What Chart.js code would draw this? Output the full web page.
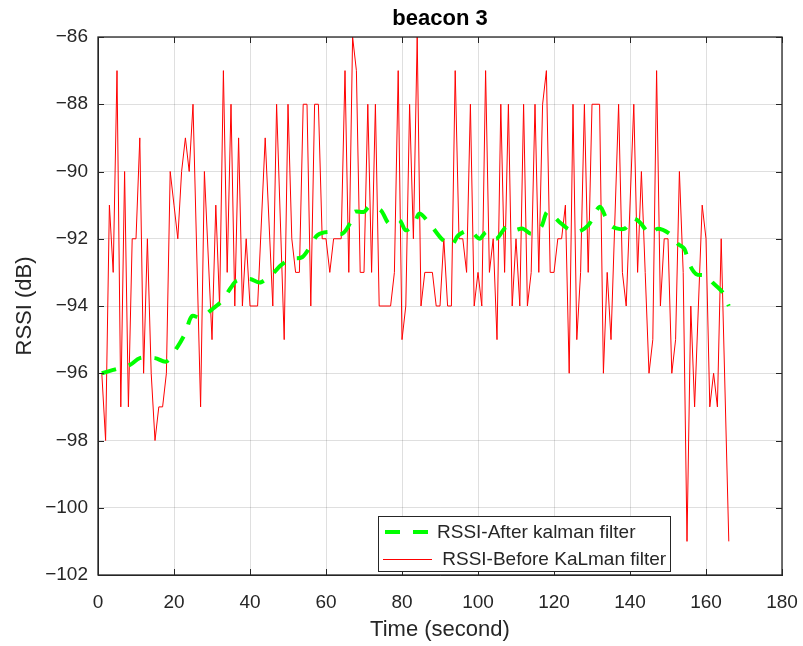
<!DOCTYPE html>
<html><head><meta charset="utf-8">
<script src="https://cdn.jsdelivr.net/npm/chart.js@4"></script>
<style>html,body{margin:0;padding:0;background:#fff}#wrap{width:803px;height:646px}</style>
</head><body><div id="wrap"><canvas id="c" width="803" height="646"></canvas></div>
<script>
// ---- data ----
const rawTime = [1,2,3,4,5,6,7,8,9,10,11,12,13,14,15,16,17,18,19,20,21,22,23,24,25,27,28,30,31,32,33,34,35,36,37,38,39,40,42,44,46,47,49,50,51,52,53,54,55,56,57,58,59,60,61,62,64,65,66,67,68,69,70,71,72,73,74,77,78,79,80,81,82,83,84,85,86,88,89,90,91,92,93,94,95,96,97,98,99,100,101,102,103,104,105,106,107,108,109,110,111,112,113,114,115,116,117,118,119,120,121,122,123,124,125,126,127,128,129,130,132,133,134,135,137,138,139,141,142,143,144,145,146,147,148,149,150,151,152,153,154,155,156,157,159,160,161,162,163,164,166];
const rawRssi = [-96,-98,-91,-93,-87,-97,-90,-97,-92,-92,-89,-96,-92,-96,-98,-97,-97,-96,-90,-91,-92,-90,-89,-90,-88,-97,-90,-95,-91,-94,-87,-93,-88,-94,-89,-94,-92,-94,-94,-89,-94,-88,-95,-88,-92,-93,-93,-88,-88,-94,-88,-88,-92,-92,-93,-92,-92,-87,-93,-86,-87,-93,-93,-88,-93,-88,-94,-94,-93,-87,-95,-94,-88,-92,-86,-94,-93,-93,-94,-94,-92,-94,-94,-87,-92,-92,-93,-88,-94,-93,-94,-87,-93,-92,-95,-88,-93,-88,-94,-92,-94,-88,-94,-93,-88,-93,-88,-87,-93,-93,-92,-92,-91,-96,-88,-95,-93,-88,-93,-88,-88,-96,-93,-95,-88,-93,-94,-88,-93,-90,-93,-96,-95,-87,-94,-92,-92,-96,-95,-90,-93,-101,-94,-97,-91,-92,-97,-96,-97,-92,-101];
const kalmanTime = [1,4,8.4,11,15,18,21,23,24.7,27,30,32.6,35,36.5,40,42.7,46.3,48,50.7,53.7,56,57.7,60.4,64.3,66.5,67.5,70,71.4,74.4,76.6,79.3,81,83.2,84.6,87.6,90.4,93,94.8,97.8,100.4,102.2,104.8,107.4,109.2,111.8,114,116.6,118.3,121.4,123.6,126.2,129,132,133.8,135.5,138.6,140.8,142.5,145.2,147.3,150.4,152.6,154.3,155.6,157.4,160,161.7,164.4,166];
const kalmanRssi = [-96,-95.9,-95.75,-95.55,-95.55,-95.65,-95.2,-94.8,-94.3,-94.35,-94.1,-93.85,-93.45,-93.25,-93.2,-93.3,-93.0,-92.8,-92.6,-92.55,-92.2,-91.9,-91.8,-91.85,-91.5,-91.2,-91.2,-91.05,-91.15,-91.55,-91.45,-91.75,-91.55,-91.25,-91.6,-92.0,-92.2,-91.9,-91.75,-92.0,-91.8,-92.0,-91.65,-91.75,-91.7,-91.85,-91.65,-91.2,-91.5,-91.7,-91.8,-91.6,-91.05,-91.4,-91.65,-91.7,-91.4,-91.5,-91.85,-91.7,-91.85,-92.15,-92.3,-92.75,-93.05,-93.1,-93.3,-93.6,-94.0];
const xTicks = [0,20,40,60,80,100,120,140,160,180];
const yTicks = [-102,-100,-98,-96,-94,-92,-90,-88,-86];
const seriesLabels = ['RSSI-After kalman filter', ' RSSI-Before KaLman filter'];
const titleText = 'beacon 3';
const xTitle = 'Time (second)';
const yTitle = 'RSSI (dB)';

const FONT = '"Liberation Sans", Arial, Helvetica, sans-serif';
const TXT = '#262626';
const AXC = '#262626';
const GRID = 'rgba(38,38,38,0.15)';

const toPts = (xs, ys) => xs.map((x, i) => ({x: x, y: ys[i]}));
const fmtNum = v => (v < 0 ? '\u2212' + Math.abs(v) : String(v));

const boxTicks = {
  id: 'boxTicks',
  afterDatasetsDraw(chart) {
    const {ctx, chartArea: a, scales: {x, y}} = chart;
    ctx.save();
    ctx.strokeStyle = AXC;
    ctx.lineWidth = 1;
    const L = 6;
    xTicks.forEach(v => {
      const px = Math.round(x.getPixelForValue(v)) + 0.5;
      ctx.beginPath();
      ctx.moveTo(px, a.bottom); ctx.lineTo(px, a.bottom - L);
      ctx.moveTo(px, a.top); ctx.lineTo(px, a.top + L);
      ctx.stroke();
    });
    yTicks.forEach(v => {
      const py = Math.round(y.getPixelForValue(v)) + 0.5;
      ctx.beginPath();
      ctx.moveTo(a.left, py); ctx.lineTo(a.left + L, py);
      ctx.moveTo(a.right, py); ctx.lineTo(a.right - L, py);
      ctx.stroke();
    });
    ctx.lineWidth = 1.3;
    ctx.strokeRect(a.left, a.top, a.right - a.left, a.bottom - a.top);
    ctx.restore();
  },
  afterDraw(chart) {
    const {ctx} = chart;
    const ds = chart.data.datasets;
    ctx.save();
    const bx = 378.5, by = 516.5, bw = 292, bh = 55;
    ctx.fillStyle = '#fff';
    ctx.fillRect(bx, by, bw, bh);
    ctx.strokeStyle = AXC;
    ctx.lineWidth = 1;
    ctx.strokeRect(bx, by, bw, bh);
    const rows = [532, 559];
    ds.forEach((d, i) => {
      const ry = rows[i];
      ctx.beginPath();
      ctx.strokeStyle = d.borderColor;
      ctx.lineWidth = d.borderWidth;
      ctx.setLineDash(d.borderDash || []);
      if (i === 0) { ctx.moveTo(385, ry); ctx.lineTo(430, ry); }
      else { ctx.moveTo(383, ry + 0.5); ctx.lineTo(432, ry + 0.5); }
      ctx.stroke();
      ctx.setLineDash([]);
      ctx.fillStyle = TXT;
      ctx.font = '19px ' + FONT;
      ctx.textBaseline = 'middle';
      ctx.textAlign = 'left';
      ctx.fillText(d.label, 437, ry + 1);
    });
    ctx.restore();
  }
};

new Chart(document.getElementById('c'), {
  type: 'line',
  data: {
    datasets: [
      {
        label: seriesLabels[0],
        data: toPts(kalmanTime, kalmanRssi),
        borderColor: '#00ff00',
        borderWidth: 4,
        borderDash: [15, 13],
        pointRadius: 0,
        tension: 0.3,
        fill: false,
        order: 0
      },
      {
        label: seriesLabels[1],
        data: toPts(rawTime, rawRssi),
        borderColor: '#ff0000',
        borderWidth: 1,
        pointRadius: 0,
        tension: 0,
        fill: false,
        order: 1
      }
    ]
  },
  options: {
    responsive: false,
    devicePixelRatio: 1,
    animation: false,
    layout: {padding: {top: 0, left: 0, right: 21, bottom: 0}},
    plugins: {
      legend: {display: false},
      tooltip: {enabled: false},
      title: {
        display: true,
        text: titleText,
        fullSize: false,
        color: '#000',
        font: {family: FONT, size: 22, weight: 'bold'},
        padding: {top: 6, bottom: 4.6}
      }
    },
    scales: {
      x: {
        type: 'linear',
        min: 0, max: 180,
        afterBuildTicks: s => { s.ticks = xTicks.map(v => ({value: v})); },
        afterFit: s => { s.height = 71; s.paddingLeft = 0; s.paddingRight = 0; },
        ticks: {color: TXT, font: {family: FONT, size: 19}, padding: 16, maxRotation: 0, callback: v => fmtNum(v)},
        grid: {color: GRID, drawTicks: false, lineWidth: 1},
        border: {color: AXC, width: 1},
        title: {display: true, text: xTitle, color: TXT, font: {family: FONT, size: 22}, padding: {top: 0, bottom: 3}}
      },
      y: {
        type: 'linear',
        min: -102, max: -86,
        afterBuildTicks: s => { s.ticks = yTicks.map(v => ({value: v})); },
        afterFit: s => { s.width = 98; s.paddingTop = 0; s.paddingBottom = 0; },
        ticks: {color: TXT, font: {family: FONT, size: 19}, padding: 10, callback: v => fmtNum(v)},
        grid: {color: GRID, drawTicks: false, lineWidth: 1},
        border: {color: AXC, width: 1},
        title: {display: true, text: yTitle, color: TXT, font: {family: FONT, size: 22}, padding: {top: 12, bottom: 0}}
      }
    }
  },
  plugins: [boxTicks]
});
</script>
</body></html>
